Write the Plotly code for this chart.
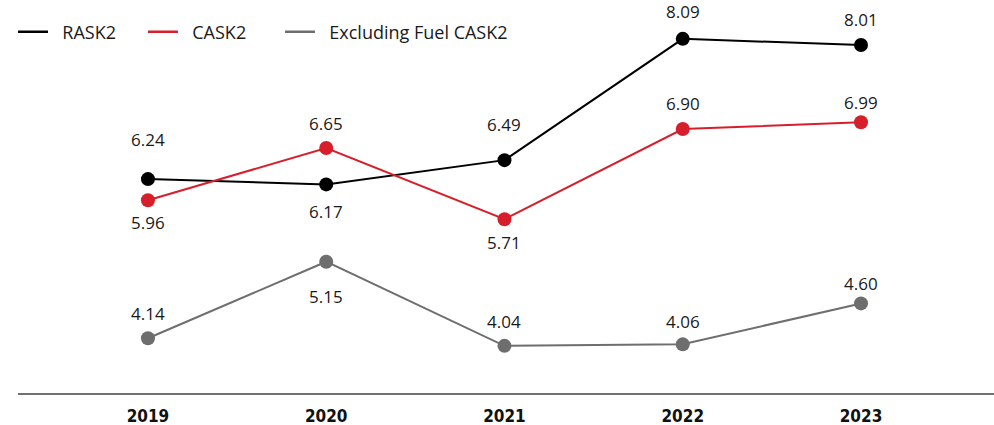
import plotly.graph_objects as go

# Unit revenue and cost series (cents per ASM)
years = [2019, 2020, 2021, 2022, 2023]
rask = [6.24, 6.17, 6.49, 8.09, 8.01]
cask = [5.96, 6.65, 5.71, 6.90, 6.99]
cask_ex_fuel = [4.14, 5.15, 4.04, 4.06, 4.60]

series_names = ["RASK2", "CASK2", "Excluding Fuel CASK2"]
series_colors = ["#000000", "#d71f2b", "#6e6e6e"]

# Vertical offset (px) of each value label from its marker; negative = below
label_shifts = [
    [40, -27, 36, 27, 25],
    [-22, 25, -23, 26, 20],
    [25, -35, 24, 23, 20],
]

# Each legend key gets its own legend box so the keys can be spaced freely
legend_ids = ["legend", "legend2", "legend3"]
legend_x = [-0.0051, 0.128, 0.2684]

text_family = "Open Sans, Noto Sans, sans-serif"
label_font = dict(family=text_family, size=17, color="#1a1a1a")

fig = go.Figure()
all_values = [rask, cask, cask_ex_fuel]
for name, vals, color, lid in zip(series_names, all_values, series_colors, legend_ids):
    fig.add_trace(go.Scatter(
        x=years, y=vals, name=name, mode="lines+markers",
        line=dict(color=color, width=2),
        marker=dict(color=color, size=14),
        hoverinfo="skip", showlegend=False,
    ))
    # line-only legend key (leading no-break spaces widen the key-to-text gap)
    fig.add_trace(go.Scatter(
        x=[None], y=[None], name="\u00a0\u00a0" + name, mode="lines", legend=lid,
        line=dict(color=color, width=2.5), showlegend=True,
    ))

annotations = []
for vals, shifts in zip(all_values, label_shifts):
    for x, v, s in zip(years, vals, shifts):
        annotations.append(dict(
            x=x, y=v, xref="x", yref="y", text=f"{v:.2f}",
            showarrow=False, yshift=s, yanchor="middle", xanchor="center",
            font=label_font,
        ))

legend_style = dict(
    orientation="h", xanchor="left", y=0.968, yanchor="middle",
    font=dict(family=text_family, size=18, color="#1a1a1a"),
    bgcolor="rgba(0,0,0,0)", itemclick=False, itemdoubleclick=False,
    itemwidth=30,
)
legends = {lid: dict(legend_style, x=lx) for lid, lx in zip(legend_ids, legend_x)}

fig.update_layout(
    width=994, height=425,
    margin=dict(l=18, r=0, t=20, b=32),
    paper_bgcolor="white", plot_bgcolor="white",
    showlegend=True,
    annotations=annotations,
    xaxis=dict(
        range=[2018.271, 2023.746], automargin=False,
        tickmode="array", tickvals=years, ticktext=[str(y) for y in years],
        showgrid=False, zeroline=False,
        showline=True, linecolor="#707070", linewidth=2,
        ticks="", ticklabelstandoff=7,
        tickfont=dict(family="DejaVu Sans Condensed, Liberation Sans Narrow, sans-serif",
                      size=17, color="#111111", weight="bold"),
    ),
    yaxis=dict(
        range=[3.418, 8.339], visible=False, showgrid=False, zeroline=False,
        automargin=False,
    ),
    **legends,
)

fig.write_html("out.html")
